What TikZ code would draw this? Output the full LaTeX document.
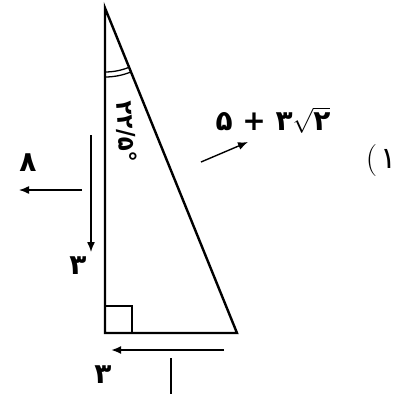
\documentclass[tikz,border=0pt]{standalone}
\usepackage{fontspec}
\usepackage{amsmath}
\usetikzlibrary{arrows.meta,positioning}
\newfontfamily\fafont[Script=Arabic]{DejaVu Sans}
\TeXXeTstate=1

\begin{document}
\begin{tikzpicture}[x=1pt,y=-1pt,
  side/.style={line width=2.4pt, line join=miter},
  thinline/.style={line width=1.3pt},
  guide/.style={-{Latex[length=10pt,width=8pt]}, line width=1.4pt},
  lbl/.style={font=\fafont\bfseries\fontsize{28}{30}\selectfont, inner sep=0pt}]
\useasboundingbox (0,0) rectangle (398,394);
% triangle
\coordinate (top) at (105,8);
\coordinate (corner) at (105,333);
\coordinate (foot) at (237,333);
\draw[side] (top) -- (corner) -- (foot) -- cycle;
\draw[thinline] (132,333) |- (105,306);
\draw[thinline] (105,72) arc[start angle=90, end angle=67.9, radius=64];
\draw[thinline] (105,77) arc[start angle=90, end angle=67.9, radius=69];
\node[lbl, font=\fafont\bfseries\fontsize{23}{25}\selectfont, rotate=-87] (ang) at (126,132) {\beginL ۲۲/۵°\endL};

% hypotenuse
\coordinate (hs) at (201,162);
\coordinate (he) at (248,142);
\draw[guide] (hs) -- (he);
\node[lbl] (hyp) at (273,120) {\beginL ۵ + ۳$\sqrt{\text{\fafont\bfseries ۲}}$\endL};
\node[inner sep=0pt, font=\fontsize{32}{34}\selectfont] (num) at (381,161) {(\hspace{3pt}{\fafont\fontsize{30}{32}\selectfont ۱}};

% left side
\coordinate (ls) at (91,135);
\coordinate (le) at (91,252);
\draw[guide] (ls) -- (le);
\node[lbl] (lv) at (78,266) {۳};
\coordinate (ws) at (82,190);
\coordinate (we) at (19,190);
\draw[guide] (ws) -- (we);
\node[lbl] (lw) at (28,163) {۸};

% bottom side
\coordinate (bs) at (224,350);
\coordinate (be) at (111,350);
\draw[guide, line width=2pt] (bs) -- (be);
\node[lbl] (bv) at (103,375) {۳};
\coordinate (tk) at (171,358);
\coordinate (tb) at (171,394);
\draw[thinline] (tk) -- (tb);
\end{tikzpicture}
\end{document}
